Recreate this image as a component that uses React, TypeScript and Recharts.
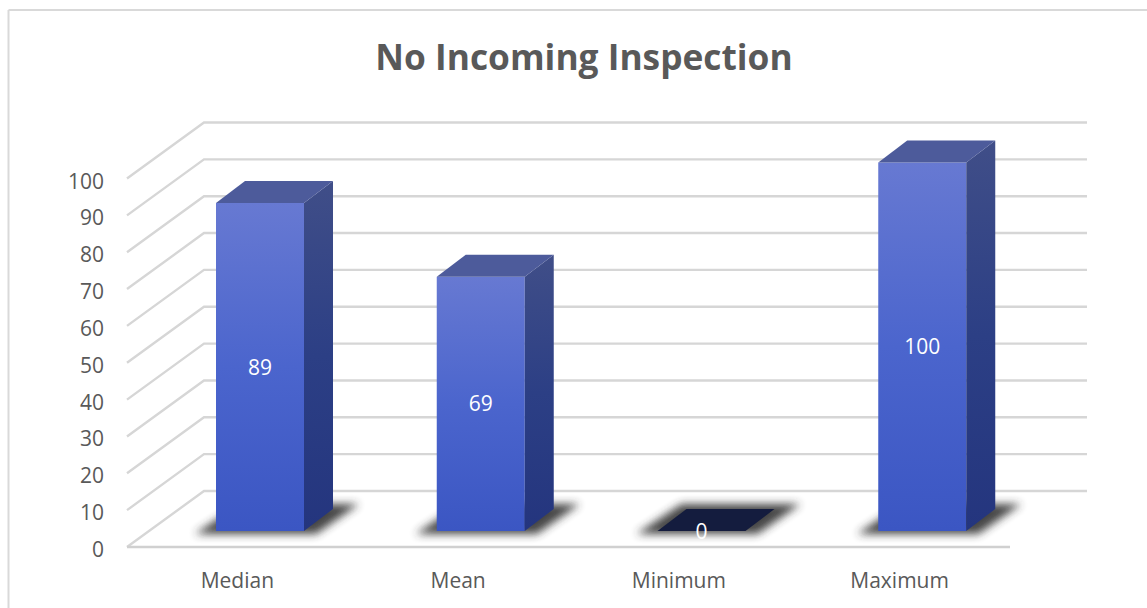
import { Bar, CartesianGrid, ComposedChart, LabelList, XAxis, YAxis } from "recharts";

const categories = ["Median", "Mean", "Minimum", "Maximum"];
const values = [89, 69, 0, 100];
const yTicks = [0, 10, 20, 30, 40, 50, 60, 70, 80, 90, 100];

const data = categories.map((name, i) => ({ name, value: values[i] }));

// fake 3D: plot area is the mid depth, front and back planes are shifted from it
const FRONT = { dx: -23, dy: 16 };
const BACK = { dx: 54, dy: -40 };
const DEPTH = { dx: 29, dy: -22 };
const TEXT = "#595959";
const FONT = "'Open Sans', sans-serif";

const GridLine = (props: any) => {
  const { x1, x2, y1 } = props;
  const pts = [
    [x1 + FRONT.dx, y1 + FRONT.dy],
    [x1 + BACK.dx, y1 + BACK.dy],
    [x2 + BACK.dx, y1 + BACK.dy],
  ];
  return (
    <g key={props.key}>
      <polyline points={pts.map((p) => p.join(",")).join(" ")} fill="none" stroke="#d6d6d6" strokeWidth={2.4} />
      {y1 > 530 && (
        <line x1={x1 + FRONT.dx} y1={y1 + FRONT.dy} x2={x2 + FRONT.dx} y2={y1 + FRONT.dy} stroke="#d0d0d0" strokeWidth={2.4} />
      )}
    </g>
  );
};

const Bar3D = (props: any) => {
  const { x, y, width: w, height: h } = props;
  const base = y + h;
  const flat = h < 1;
  const shadow = [
    [x - 21, base + 3],
    [x + w + 12, base + 3],
    [x + w + 55, base - 27],
    [x + 24, base - 27],
  ];
  const front = `${x},${y} ${x + w},${y} ${x + w},${base} ${x},${base}`;
  const side = `${x + w},${y} ${x + w + DEPTH.dx},${y + DEPTH.dy} ${x + w + DEPTH.dx},${base + DEPTH.dy} ${x + w},${base}`;
  const top = `${x},${y} ${x + DEPTH.dx},${y + DEPTH.dy} ${x + w + DEPTH.dx},${y + DEPTH.dy} ${x + w},${y}`;
  return (
    <g>
      <polygon points={shadow.map((p) => p.join(",")).join(" ")} fill="#333" opacity={0.9} filter="url(#barShadow)" />
      {flat ? (
        <polygon points={top} fill="#141c3e" />
      ) : (
        <>
          <polygon points={front} fill="url(#frontFace)" />
          <polygon points={side} fill="url(#sideFace)" />
          <polygon points={top} fill="#4d5b9b" />
        </>
      )}
    </g>
  );
};

const CategoryTick = (props: any) => {
  const { x, y, payload } = props;
  return (
    <text x={x + FRONT.dx} y={y + 49} textAnchor="middle" fontSize={21} fontFamily={FONT} fill={TEXT}>
      {payload.value}
    </text>
  );
};

const ValueTick = (props: any) => {
  const { x, y, payload } = props;
  return (
    <text x={x - 38} y={y + 26} textAnchor="end" fontSize={21} fontFamily={FONT} fill={TEXT}>
      {payload.value}
    </text>
  );
};

const BarValue = (props: any) => {
  const { x, y, width: w, height: h, value } = props;
  return (
    <text x={x + w / 2} y={y + h / 2 + 7.5} textAnchor="middle" fontSize={21} fontFamily={FONT} fill="#fff">
      {value}
    </text>
  );
};

export default function App() {
  return (
    <div style={{ position: "absolute", left: 0, top: 0, width: 1147, height: 608, background: "#fff" }}>
      <ComposedChart
        width={1147}
        height={608}
        data={data}
        margin={{ top: 162.5, right: 114, bottom: 47, left: 105 }}
        barCategoryGap={0}
      >
        <defs>
          <linearGradient id="frontFace" x1="0" y1="0" x2="0" y2="1">
            <stop offset="0%" stopColor="#6779d2" />
            <stop offset="50%" stopColor="#4b65cd" />
            <stop offset="100%" stopColor="#3b56c3" />
          </linearGradient>
          <linearGradient id="sideFace" x1="0" y1="0" x2="0" y2="1">
            <stop offset="0%" stopColor="#404e88" />
            <stop offset="50%" stopColor="#2c3f85" />
            <stop offset="100%" stopColor="#24357e" />
          </linearGradient>
          <filter id="barShadow" x="-20%" y="-50%" width="140%" height="200%">
            <feGaussianBlur stdDeviation="4" />
          </filter>
        </defs>
        {/* frame: Excel chart area, only left and top edge survived the crop */}
        <line x1={8.5} y1={10} x2={1147} y2={10} stroke="#d9d9d9" strokeWidth={2} />
        <line x1={8.5} y1={10} x2={8.5} y2={608} stroke="#d9d9d9" strokeWidth={2} />
        <text x={584} y={70} textAnchor="middle" fontSize={35.3} fontWeight={700} fontFamily={FONT} fill={TEXT}>
          No Incoming Inspection
        </text>
        <CartesianGrid vertical={false} horizontal={GridLine as any} />
        <XAxis dataKey="name" axisLine={false} tickLine={false} tick={CategoryTick} interval={0} />
        <YAxis
          type="number"
          domain={[0, 100]}
          ticks={yTicks}
          axisLine={false}
          tickLine={false}
          width={45}
          tick={ValueTick}
          interval={0}
        />
        <Bar dataKey="value" barSize={88} shape={Bar3D} isAnimationActive={false}>
          <LabelList dataKey="value" content={BarValue} />
        </Bar>
      </ComposedChart>
    </div>
  );
}
